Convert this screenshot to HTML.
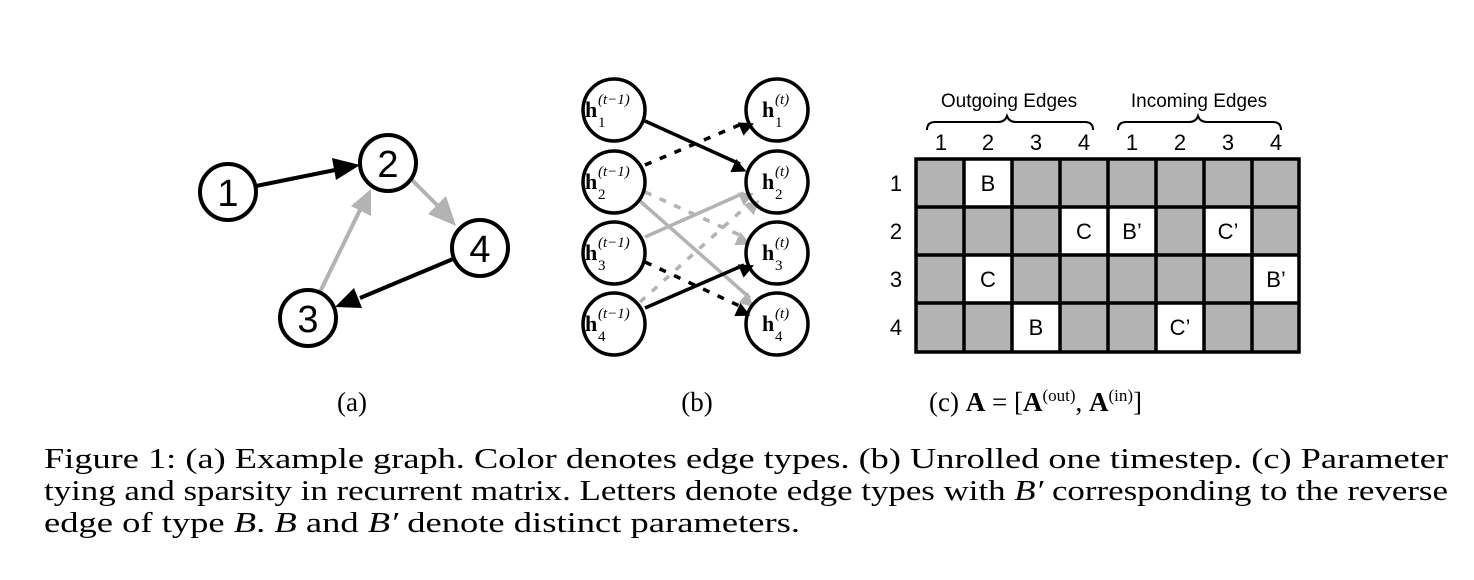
<!DOCTYPE html>
<html><head><meta charset="utf-8"><style>
html,body{margin:0;padding:0;background:#fff;}
svg{display:block}
</style></head><body>
<svg width="1474" height="580" viewBox="0 0 1474 580" xmlns="http://www.w3.org/2000/svg">
<defs>
<marker id="ab" viewBox="0 0 10 10" refX="9" refY="5" markerWidth="7" markerHeight="6" markerUnits="userSpaceOnUse" orient="auto" style="overflow:visible"><path d="M0,0 L10,5 L0,10 z" fill="#000" transform="scale(2.4)"/></marker>
<marker id="ag" viewBox="0 0 10 10" refX="9" refY="5" markerWidth="7" markerHeight="6" markerUnits="userSpaceOnUse" orient="auto" style="overflow:visible"><path d="M0,0 L10,5 L0,10 z" fill="#b3b3b3" transform="scale(2.4)"/></marker>
</defs>
<g font-family="Liberation Sans, sans-serif">
<!-- (a) -->
<g stroke-width="4">
<line x1="256" y1="186" x2="335" y2="170" stroke="#000"/>
<polygon points="360,165 332,158 336,180" fill="#000"/>
<line x1="412" y1="180" x2="440" y2="208" stroke="#b3b3b3"/>
<polygon points="456,226 428,214 446,196" fill="#b3b3b3"/>
<line x1="320" y1="292" x2="360" y2="210" stroke="#b3b3b3"/>
<polygon points="371,189 351,206 371,216" fill="#b3b3b3"/>
<line x1="453" y1="259" x2="360" y2="298" stroke="#000"/>
<polygon points="335,307 354,288 362,308" fill="#000"/>
</g>
<g fill="#fff" stroke="#000" stroke-width="4">
<circle cx="228" cy="192" r="28"/><circle cx="388" cy="163" r="28"/>
<circle cx="480" cy="248" r="28"/><circle cx="308" cy="318" r="28"/>
</g>
<g font-size="38" text-anchor="middle">
<text x="228" y="206">1</text><text x="388" y="177">2</text>
<text x="480" y="262">4</text><text x="308" y="332">3</text>
</g>
<!-- (b) -->
<g stroke-width="3.5" fill="none">
<line x1="645" y1="121" x2="740" y2="164" stroke="#000" marker-end="url(#ab)"/>
<line x1="645" y1="165" x2="744" y2="123" stroke="#000" stroke-dasharray="7,9" marker-end="url(#ab)"/>
<line x1="645" y1="192" x2="744" y2="237" stroke="#b3b3b3" stroke-dasharray="7,9" marker-end="url(#ag)"/>
<line x1="640" y1="201" x2="750" y2="298" stroke="#b3b3b3" marker-end="url(#ag)"/>
<line x1="645" y1="237" x2="744" y2="193" stroke="#b3b3b3" marker-end="url(#ag)"/>
<line x1="645" y1="262" x2="744" y2="308" stroke="#000" stroke-dasharray="7,9" marker-end="url(#ab)"/>
<line x1="640" y1="302" x2="750" y2="203" stroke="#b3b3b3" stroke-dasharray="7,9" marker-end="url(#ag)"/>
<line x1="645" y1="308" x2="744" y2="265" stroke="#000" marker-end="url(#ab)"/>
</g>
<g fill="none" stroke="#000" stroke-width="3.5">
<circle cx="614" cy="110" r="31"/><circle cx="614" cy="182" r="31"/>
<circle cx="614" cy="253" r="31"/><circle cx="614" cy="324" r="31"/>
<circle cx="777" cy="110" r="31"/><circle cx="777" cy="182" r="31"/>
<circle cx="777" cy="253" r="31"/><circle cx="777" cy="324" r="31"/>
</g>
<g font-family="Liberation Serif, serif">
<g font-size="22" font-weight="bold">
<text x="585" y="117">h</text><text x="585" y="189">h</text><text x="585" y="260">h</text><text x="585" y="331">h</text>
<text x="762" y="117">h</text><text x="762" y="189">h</text><text x="762" y="260">h</text><text x="762" y="331">h</text>
</g>
<g font-size="15">
<text x="598" y="127">1</text><text x="598" y="199">2</text><text x="598" y="270">3</text><text x="598" y="341">4</text>
<text x="775" y="127">1</text><text x="775" y="199">2</text><text x="775" y="270">3</text><text x="775" y="341">4</text>
<g font-style="italic">
<text x="598" y="104">(t−1)</text><text x="598" y="176">(t−1)</text><text x="598" y="247">(t−1)</text><text x="598" y="318">(t−1)</text>
<text x="775" y="104">(t)</text><text x="775" y="176">(t)</text><text x="775" y="247">(t)</text><text x="775" y="318">(t)</text>
</g></g></g>
<!-- (c) grid -->
<rect x="916" y="159" width="383" height="193" fill="#b3b3b3"/>
<g fill="#fff">
<rect x="964" y="159" width="48" height="48"/>
<rect x="1060" y="207" width="48" height="48"/><rect x="1108" y="207" width="48" height="48"/><rect x="1204" y="207" width="48" height="48"/>
<rect x="964" y="255" width="48" height="48"/><rect x="1252" y="255" width="48" height="48"/>
<rect x="1012" y="303" width="48" height="48"/><rect x="1156" y="303" width="48" height="48"/>
</g>
<g stroke="#000" stroke-width="3.5" fill="none">
<rect x="916" y="159" width="383" height="193"/>
<path d="M964,159V352M1012,159V352M1060,159V352M1108,159V352M1156,159V352M1204,159V352M1252,159V352M916,207H1299M916,255H1299M916,303H1299"/>
</g>
<g font-size="22" text-anchor="middle">
<text x="988" y="191">B</text>
<text x="1084" y="239">C</text><text x="1132" y="239">B’</text><text x="1228" y="239">C’</text>
<text x="988" y="287">C</text><text x="1276" y="287">B’</text>
<text x="1036" y="335">B</text><text x="1180" y="335">C’</text>
<text x="941" y="150">1</text><text x="988" y="150">2</text><text x="1036" y="150">3</text><text x="1084" y="150">4</text>
<text x="1132" y="150">1</text><text x="1180" y="150">2</text><text x="1228" y="150">3</text><text x="1276" y="150">4</text>
<text x="896" y="191">1</text><text x="896" y="239">2</text><text x="896" y="287">3</text><text x="896" y="335">4</text>
</g>
<g font-size="19" text-anchor="middle">
<text x="1009" y="107">Outgoing Edges</text><text x="1199" y="107">Incoming Edges</text>
</g>
<g stroke="#000" stroke-width="2" fill="none">
<path d="M927,130 q0,-8 8,-8 H998 q7,0 9,-6 q2,6 9,6 H1085 q8,0 8,8"/>
<path d="M1118,130 q0,-8 8,-8 H1189 q7,0 9,-6 q2,6 9,6 H1273 q8,0 8,8"/>
</g>
</g>
<!-- sub captions -->
<g font-family="Liberation Serif, serif" font-size="27">
<text x="352" y="411" text-anchor="middle">(a)</text>
<text x="697" y="411" text-anchor="middle">(b)</text>
<text x="929" y="411">(c) <tspan font-weight="bold">A</tspan> = [<tspan font-weight="bold">A</tspan><tspan font-size="17" dy="-10">(out)</tspan><tspan dy="10">, </tspan><tspan font-weight="bold">A</tspan><tspan font-size="17" dy="-10">(in)</tspan><tspan dy="10">]</tspan></text>
</g>
<g font-family="Liberation Serif, serif" font-size="29">
<text x="44" y="468" textLength="1404" lengthAdjust="spacingAndGlyphs">Figure 1:  (a) Example graph. Color denotes edge types. (b) Unrolled one timestep. (c) Parameter</text>
<text x="44" y="500" textLength="1404" lengthAdjust="spacingAndGlyphs">tying and sparsity in recurrent matrix. Letters denote edge types with <tspan font-style="italic">B′</tspan> corresponding to the reverse</text>
<text x="44" y="532" textLength="756" lengthAdjust="spacingAndGlyphs">edge of type <tspan font-style="italic">B</tspan>. <tspan font-style="italic">B</tspan> and <tspan font-style="italic">B′</tspan> denote distinct parameters.</text>
</g>
</svg>
</body></html>
